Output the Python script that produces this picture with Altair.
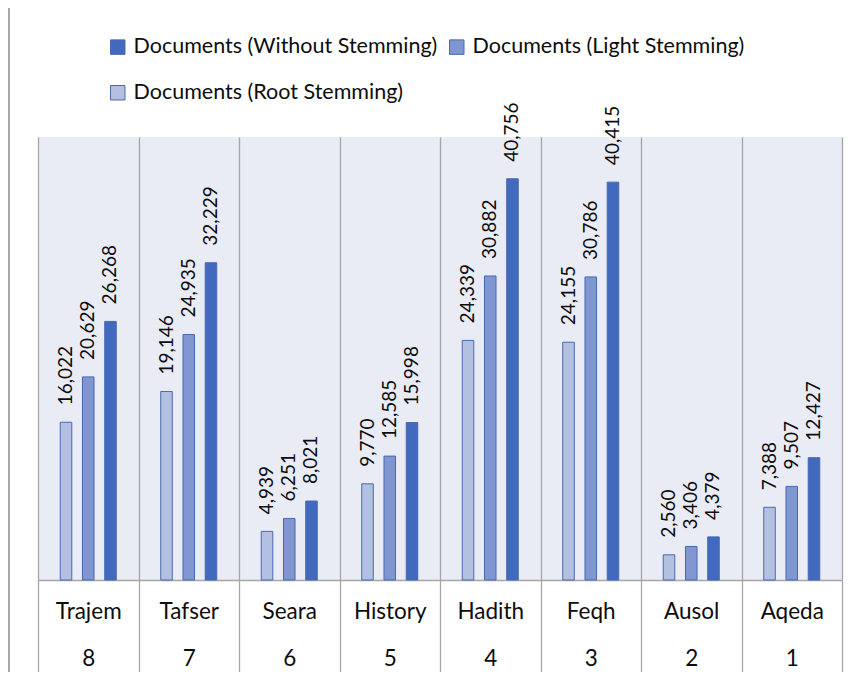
import altair as alt
import pandas as pd

categories = ["Trajem", "Tafser", "Seara", "History", "Hadith", "Feqh", "Ausol", "Aqeda"]
numbers = ["8", "7", "6", "5", "4", "3", "2", "1"]
root_vals = [16022, 19146, 4939, 9770, 24339, 24155, 2560, 7388]
light_vals = [20629, 24935, 6251, 12585, 30882, 30786, 3406, 9507]
without_vals = [26268, 32229, 8021, 15998, 40756, 40415, 4379, 12427]

S_WITHOUT = "Documents (Without Stemming)"
S_LIGHT = "Documents (Light Stemming)"
S_ROOT = "Documents (Root Stemming)"

rows = []
for c, n, r, l, w in zip(categories, numbers, root_vals, light_vals, without_vals):
    lab = f"{c}|{n}"
    rows.append({"cat": lab, "series": S_ROOT, "value": r})
    rows.append({"cat": lab, "series": S_LIGHT, "value": l})
    rows.append({"cat": lab, "series": S_WITHOUT, "value": w})
df = pd.DataFrame(rows)
cat_order = [f"{c}|{n}" for c, n in zip(categories, numbers)]

FONT = "Lato"
GRID = "#A6A6A6"
TXT = "#0d0d0d"

x_enc = alt.X(
    "cat:N",
    sort=cat_order,
    scale=alt.Scale(paddingInner=0, paddingOuter=0),
    axis=alt.Axis(
        title=None,
        labelExpr="split(datum.label, '|')",
        labelAngle=0,
        labelFont=FONT,
        labelFontSize=22.5,
        labelColor=TXT,
        labelLineHeight=47,
        labelBaseline="top",
        labelPadding=-72,
        tickBand="extent",
        tickSize=92,
        tickColor=GRID,
        tickWidth=1.3,
        grid=True,
        gridColor=GRID,
        gridWidth=1.3,
        domainColor=GRID,
        domainWidth=1.3,
    ),
)
xo_enc = alt.XOffset(
    "series:N",
    sort=[S_ROOT, S_LIGHT, S_WITHOUT],
    scale=alt.Scale(domain=[S_ROOT, S_LIGHT, S_WITHOUT], paddingInner=0.48, paddingOuter=1),
)
y_enc = alt.Y("value:Q", scale=alt.Scale(domain=[0, 45000]), axis=None)

bars = alt.Chart(df).mark_bar(stroke="#4A6AB0", strokeWidth=1).encode(
    x=x_enc,
    xOffset=xo_enc,
    y=y_enc,
    color=alt.Color(
        "series:N",
        scale=alt.Scale(domain=[S_WITHOUT, S_LIGHT, S_ROOT], range=["#4169BE", "#7F96D0", "#B4C0E2"]),
        legend=alt.Legend(
            title=None,
            orient="none",
            direction="horizontal",
            legendX=69,
            legendY=-101,
            columns=2,
            columnPadding=8,
            rowPadding=23,
            labelFont=FONT,
            labelFontSize=21.5,
            labelColor=TXT,
            labelLimit=400,
            labelOffset=5,
            symbolType="square",
            symbolSize=210,
            symbolStrokeColor="#4A6AB0",
            symbolStrokeWidth=1,
            padding=0,
        ),
    ),
)

labels = alt.Chart(df).mark_text(
    angle=270, align="left", baseline="middle", dx=17, font=FONT, fontSize=19, color=TXT
).encode(
    x=alt.X("cat:N", sort=cat_order),
    xOffset=alt.XOffset("series:N", sort=[S_ROOT, S_LIGHT, S_WITHOUT]),
    y=alt.Y("value:Q"),
    text=alt.Text("value:Q", format=","),
)

frame_top = alt.Chart(df).mark_rule(color="#A6A6A6", strokeWidth=1.3).encode(
    x=alt.value(-29), x2=alt.value(814), y=alt.value(-130)
)
frame_left = alt.Chart(df).mark_rule(color="#A6A6A6", strokeWidth=1.3).encode(
    x=alt.value(-29), y=alt.value(-130), y2=alt.value(535)
)

chart = alt.layer(bars, labels, frame_top, frame_left).properties(
    width=804,
    height=443,
    autosize=alt.AutoSizeParams(type="none"),
    padding={"left": 30, "top": 129, "right": 10, "bottom": 92},
).configure_view(fill="#E9EBF5", stroke=None)

chart.save("out.html", embed_options={"renderer": "svg", "actions": False})
